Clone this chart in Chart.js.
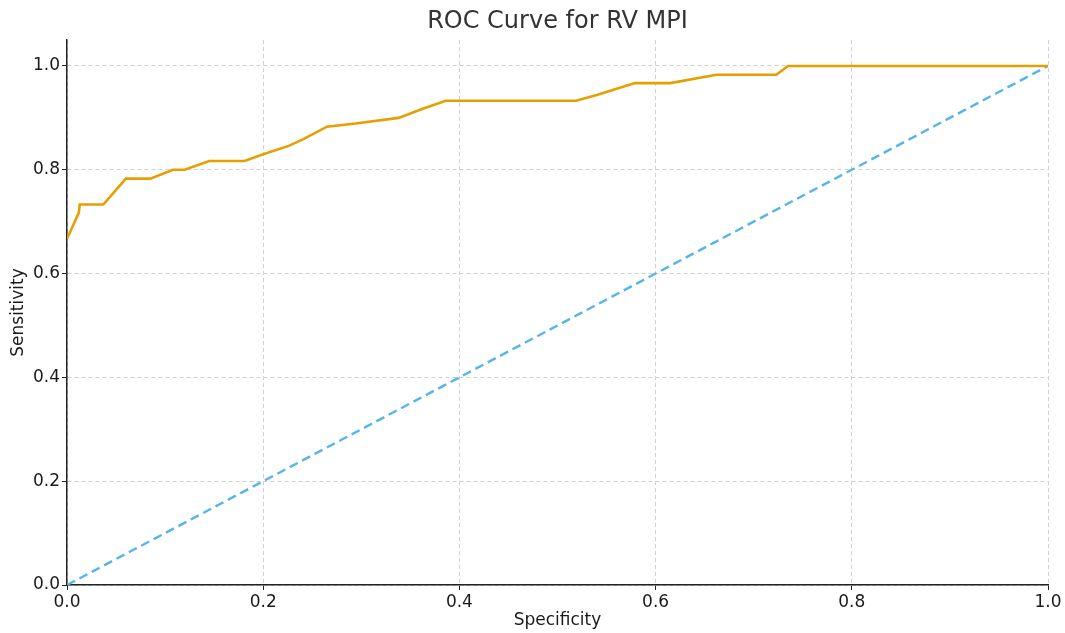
<!DOCTYPE html>
<html>
<head>
<meta charset="utf-8">
<script src="https://cdn.jsdelivr.net/npm/chart.js@4/dist/chart.umd.min.js"></script>
<style>
  html, body { margin: 0; padding: 0; background: #ffffff; }
  #wrap { width: 1065px; height: 633px; }
</style>
</head>
<body>
<div id="wrap"><canvas id="c" width="1065" height="633"></canvas></div>
<script>
// ---- Data ----
const chartTitle = "ROC Curve for RV MPI";
const xAxisLabel = "Specificity";
const yAxisLabel = "Sensitivity";

const rocX = [0, 0.012, 0.013, 0.037, 0.060, 0.085, 0.108, 0.120, 0.145, 0.181, 0.200, 0.226, 0.241, 0.265, 0.294, 0.338, 0.362, 0.386, 0.519, 0.540, 0.579, 0.615, 0.662, 0.723, 0.735, 1.0];
const rocY = [0.667, 0.717, 0.733, 0.733, 0.783, 0.783, 0.800, 0.800, 0.817, 0.817, 0.830, 0.846, 0.859, 0.883, 0.889, 0.900, 0.917, 0.933, 0.933, 0.944, 0.967, 0.967, 0.983, 0.983, 1.0, 1.0];

const refX = [0, 1];
const refY = [0, 1];

const xTicks = [0, 0.2, 0.4, 0.6, 0.8, 1.0];
const yTicks = [0, 0.2, 0.4, 0.6, 0.8, 1.0];

const FONT = "'DejaVu Sans', sans-serif";

const toPoints = (xs, ys) => xs.map((x, i) => ({ x: x, y: ys[i] }));

// Title centred over the plot area (as in the reference)
const axesTitlePlugin = {
  id: 'axesTitle',
  afterDraw(chart) {
    const { ctx, chartArea } = chart;
    ctx.save();
    ctx.font = "24px " + FONT;
    ctx.fillStyle = '#333333';
    ctx.textAlign = 'center';
    ctx.textBaseline = 'middle';
    ctx.fillText(chartTitle, (chartArea.left + chartArea.right) / 2, 22);
    ctx.restore();
  }
};

new Chart(document.getElementById('c'), {
  type: 'line',
  data: {
    datasets: [
      {
        label: 'ROC',
        data: toPoints(rocX, rocY),
        borderColor: '#E69F00',
        borderWidth: 2.6,
        pointRadius: 0,
        tension: 0,
        fill: false,
        order: 1
      },
      {
        label: 'Chance',
        data: toPoints(refX, refY),
        borderColor: '#56B4E9',
        borderWidth: 2.4,
        borderDash: [9, 5],
        pointRadius: 0,
        tension: 0,
        fill: false,
        order: 2
      }
    ]
  },
  plugins: [axesTitlePlugin],
  options: {
    responsive: false,
    devicePixelRatio: 1,
    animation: false,
    layout: { padding: { left: 0, right: 17, top: 40, bottom: 0 } },
    plugins: {
      legend: { display: false },
      tooltip: { enabled: false },
      title: { display: false }
    },
    scales: {
      x: {
        type: 'linear',
        min: 0,
        max: 1,
        afterBuildTicks: (s) => { s.ticks = xTicks.map(v => ({ value: v })); },
        afterFit: (s) => { s.height = 48; },
        ticks: {
          color: '#1a1a1a',
          font: { family: FONT, size: 17 },
          padding: 2,
          maxRotation: 0,
          callback: (v) => Number(v).toFixed(1)
        },
        grid: {
          color: '#d0d0d0',
          lineWidth: 1,
          drawTicks: true,
          tickLength: 5,
          tickColor: '#222222',
          tickWidth: 1
        },
        border: { display: true, color: '#222222', width: 1.5, dash: [4, 3] },
        title: {
          display: true,
          text: xAxisLabel,
          color: '#1a1a1a',
          font: { family: FONT, size: 17 },
          padding: { top: 0, bottom: 2 }
        }
      },
      y: {
        type: 'linear',
        min: 0,
        max: 1.05,
        afterBuildTicks: (s) => { s.ticks = yTicks.map(v => ({ value: v })); },
        afterFit: (s) => { s.width = 67; },
        ticks: {
          color: '#1a1a1a',
          font: { family: FONT, size: 17 },
          padding: 2,
          callback: (v) => Number(v).toFixed(1)
        },
        grid: {
          color: '#d0d0d0',
          lineWidth: 1,
          drawTicks: true,
          tickLength: 5,
          tickColor: '#222222',
          tickWidth: 1
        },
        border: { display: true, color: '#222222', width: 1.5, dash: [4, 3] },
        title: {
          display: true,
          text: yAxisLabel,
          color: '#1a1a1a',
          font: { family: FONT, size: 17 },
          padding: { top: 8, bottom: 0 }
        }
      }
    }
  }
});
</script>
</body>
</html>
